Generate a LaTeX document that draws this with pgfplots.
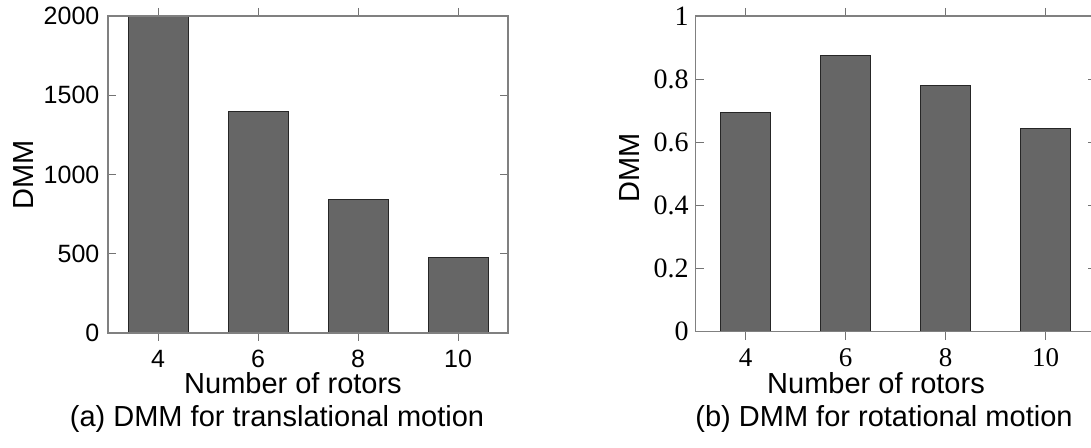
\documentclass[border=0pt]{standalone}
\usepackage{fontspec}
\setmainfont{Liberation Sans}
\newfontfamily\serifnum{Liberation Serif}
\usepackage{pgfplots}
\pgfplotsset{compat=1.18}
\begin{document}
\begin{tikzpicture}
\pgfplotsset{
  dmmstyle/.style={
    scale only axis, width=200pt,
    xmin=3, xmax=11, xtick={4,6,8,10},
    ymin=0,
    axis line style={black!50, line width=0.6pt},
    every tick/.style={black!55, line width=0.5pt},
    major tick length=4pt,
    tick align=inside,
    axis on top,
    /pgf/number format/assume math mode=true,
    /pgf/number format/1000 sep={},
    scaled y ticks=false,
    ybar, bar shift=0pt,
    xticklabel style={anchor=base},
    label style={font=\fontsize{14.5}{17}\selectfont},
  }
}
\begin{axis}[dmmstyle,
  at={(54pt,57.5pt)}, anchor=south west,
  height=158.5pt,
  ymax=2000, ytick={0,500,1000,1500,2000},
  bar width=30pt,
  tick label style={font=\fontsize{12.5}{14}\selectfont},
  xticklabel style={yshift=-13.2pt},
  yticklabel style={xshift=-0.8pt},
  xlabel={Number of rotors},
  xlabel style={at={(axis description cs:0.4625,0)}, anchor=base, yshift=-30.5pt},
  ylabel={DMM},
  ylabel style={at={(axis description cs:-0.1868,0.5)}, anchor=base},
]
\addplot[fill=black!60, draw=black!85, line width=0.5pt] coordinates {(4,2000) (6,1395) (8,845) (10,475)};
\end{axis}
\begin{axis}[dmmstyle,
  at={(347.85pt,58.15pt)}, anchor=south west,
  height=157.85pt,
  ymax=1, ytick={0,0.2,0.4,0.6,0.8,1},
  bar width=25pt,
  yticklabel style={font=\serifnum\fontsize{14}{16}\selectfont},
  xticklabel style={font=\serifnum\fontsize{13.5}{15}\selectfont, yshift=-13.3pt},
  xlabel={Number of rotors},
  xlabel style={at={(axis description cs:0.4508,0)}, anchor=base, yshift=-30.9pt},
  ylabel={DMM},
  ylabel style={at={(axis description cs:-0.141,0.52)}, anchor=base},
]
\addplot[fill=black!60, draw=black!85, line width=0.5pt] coordinates {(4,0.694) (6,0.876) (8,0.781) (10,0.644)};
\end{axis}
\node[anchor=base, font=\fontsize{14.5}{17}\selectfont] at (138.5pt,10.5pt) {(a) DMM for translational motion};
\node[anchor=base, font=\fontsize{14.5}{17}\selectfont] at (442pt,10.5pt) {(b) DMM for rotational motion};
\pgfresetboundingbox
\path[use as bounding box] (0pt,0pt) rectangle (545.5pt,224pt);
\end{tikzpicture}
\end{document}
